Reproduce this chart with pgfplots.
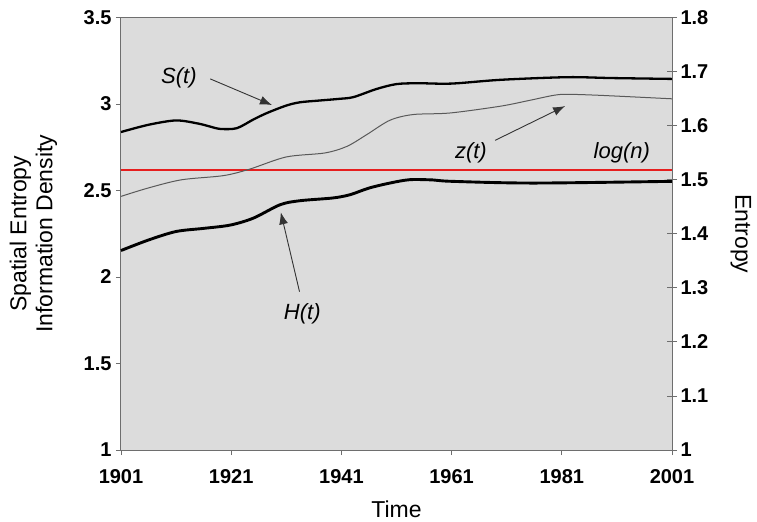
\documentclass[border=0pt]{standalone}
\usepackage{fontspec}
\setmainfont{Liberation Sans}
\usepackage{pgfplots}
\pgfplotsset{compat=1.18}
\usetikzlibrary{arrows.meta}
\definecolor{bg}{RGB}{220,220,220}
\definecolor{axgray}{RGB}{110,110,110}
\definecolor{lred}{RGB}{230,30,30}
\begin{document}
\begin{tikzpicture}
\begin{axis}[
  at={(0,0)}, anchor=south west,
  scale only axis, width=551bp, height=432.5bp,
  xmin=1901, xmax=2001, ymin=1, ymax=3.5,
  xtick={1901,1921,1941,1961,1981,2001},
  ytick={1,1.5,2,2.5,3,3.5},
  xtick pos=bottom, ytick pos=left,
  tick align=outside,
  major tick length=5bp,
  axis line style={axgray, line width=1bp},
  every tick/.style={axgray, line width=0.8bp},
  axis background/.style={fill=bg},
  /pgf/number format/1000 sep={},
  /pgf/number format/assume math mode=true,
  tick label style={font=\fontsize{20bp}{22bp}\selectfont\bfseries},
  xticklabel style={yshift=-11bp},
  yticklabel style={xshift=-1bp},
  xlabel={Time},
  ylabel={Spatial Entropy\\Information Density},
  every axis x label/.style={at={(axis description cs:0.5,-0.136)}, anchor=center, font=\fontsize{23bp}{26bp}\selectfont},
  every axis y label/.style={at={(axis description cs:-0.159,0.5)}, rotate=90, anchor=center, align=center, font=\fontsize{23bp}{26bp}\selectfont},
  clip=false,
]
\addplot[lred, line width=2bp] coordinates {(1901,2.62) (2001,2.62)};
\addplot[black, line width=2.3bp, smooth] coordinates {
(1901,2.838) (1906,2.88) (1911,2.905) (1915,2.887) (1917,2.871) (1919,2.856) (1922,2.86) (1925,2.91) (1927.5,2.948) (1931,2.991) (1933.5,3.01) (1937,3.02) (1940.7,3.03) (1943.2,3.04) (1947.4,3.087) (1951,3.115) (1955,3.12) (1961,3.118) (1970,3.14) (1982,3.155) (1990,3.15) (2001,3.145)};
\addplot[black!65, line width=1bp, smooth] coordinates {
(1901,2.466) (1906,2.515) (1912,2.562) (1919.6,2.586) (1924.4,2.624) (1931,2.694) (1938,2.717) (1942,2.755) (1945.6,2.823) (1949.8,2.906) (1954,2.939) (1960.7,2.948) (1969.8,2.987) (1975,3.02) (1979.5,3.05) (1982,3.056) (1988,3.05) (2001,3.03)};
\addplot[black, line width=2.9bp, smooth] coordinates {
(1901,2.153) (1906,2.214) (1911,2.263) (1916,2.281) (1920.8,2.3) (1925,2.34) (1929.9,2.418) (1933.5,2.441) (1939.5,2.457) (1942.6,2.476) (1946,2.514) (1949.8,2.543) (1953.4,2.5625) (1957.6,2.561) (1961,2.553) (1975.8,2.543) (2001,2.553)};
\begin{scope}[font=\fontsize{22bp}{24bp}\selectfont\itshape]
\node at (axis cs:1911.5,3.15) {S(t)};
\node at (axis cs:1964.5,2.717) {z(t)};
\node at (axis cs:1991.9,2.717) {log(n)};
\node at (axis cs:1933.9,1.786) {H(t)};
\end{scope}
\tikzset{ann/.style={black!80, line width=0.9bp, -{Latex[length=12bp,width=9bp]}}}
\draw[ann] (axis cs:1917.2,3.145) -- (axis cs:1928.4,2.994);
\draw[ann] (axis cs:1968.9,2.79) -- (axis cs:1981.6,2.988);
\draw[ann] (axis cs:1933.4,1.915) -- (axis cs:1930,2.374);
\end{axis}
\begin{axis}[
  at={(0,0)}, anchor=south west,
  scale only axis, width=551bp, height=432.5bp,
  xmin=1901, xmax=2001, ymin=1, ymax=1.8,
  axis x line=none, axis y line*=right,
  ytick={1,1.1,1.2,1.3,1.4,1.5,1.6,1.7,1.8},
  tick align=center,
  major tick length=10bp,
  axis line style={axgray, line width=1bp},
  every tick/.style={axgray, line width=0.8bp},
  /pgf/number format/fixed, /pgf/number format/precision=1,
  /pgf/number format/assume math mode=true,
  tick label style={font=\fontsize{20bp}{22bp}\selectfont\bfseries},
  ylabel={Entropy},
  every axis y label/.style={at={(axis description cs:1.125,0.5)}, rotate=-90, anchor=center, font=\fontsize{23bp}{26bp}\selectfont},
]
\end{axis}
\draw[axgray, line width=1bp] (0,432.5bp) -- (551bp,432.5bp);
\pgfresetboundingbox
\path[use as bounding box] (-121bp,-72bp) rectangle (636bp,450bp);
\end{tikzpicture}
\end{document}
